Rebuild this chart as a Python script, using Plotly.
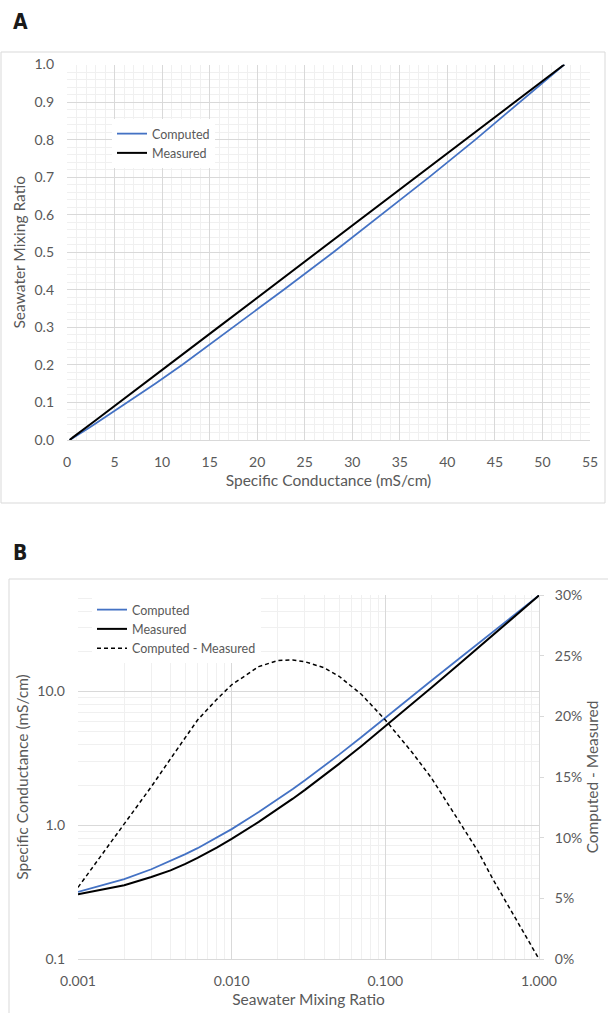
import math
import plotly.graph_objects as go

# ---------------- data ----------------
ratio = [0, 0.001, 0.002, 0.003, 0.004, 0.005, 0.006, 0.008, 0.01, 0.015, 0.02,
         0.025, 0.03, 0.04, 0.05, 0.07, 0.1, 0.15, 0.2, 0.3, 0.4, 0.5, 0.6,
         0.7, 0.8, 0.9, 1.0]
sc_measured = [0.28, 0.305, 0.356, 0.41, 0.46, 0.515, 0.57, 0.68, 0.79, 1.06,
               1.32, 1.58, 1.84, 2.36, 2.88, 3.92, 5.5, 8.1, 10.7, 15.9, 21.1,
               26.3, 31.5, 36.7, 41.9, 47.1, 52.3]
sc_computed = [0.28, 0.318, 0.395, 0.469, 0.54, 0.608, 0.674, 0.806, 0.936,
               1.256, 1.562, 1.864, 2.168, 2.773, 3.375, 4.571, 6.38, 9.27,
               12.09, 17.49, 22.79, 28.01, 33.08, 38.09, 42.95, 47.67, 52.3]
diff_pct = [None, 5.9, 11.1, 14.2, 16.5, 18.3, 19.7, 21.4, 22.6, 24.1, 24.6,
            24.65, 24.5, 24.0, 23.3, 21.8, 19.7, 17.0, 14.9, 11.4, 8.9, 6.6,
            4.9, 3.4, 2.1, 1.0, 0.0]

a_x_ticks = [0, 5, 10, 15, 20, 25, 30, 35, 40, 45, 50, 55]
b_x_tickvals = [0.001, 0.01, 0.1, 1.0]
b_x_ticktext = ["0.001", "0.010", "0.100", "1.000"]
b_y_tickvals = [0.1, 1.0, 10.0]
b_y_ticktext = ["0.1", "1.0", "10.0"]
b_y_top = 52.7

# ---------------- style ----------------
W, H = 608, 1013
BLUE = "#4472C4"
GRID = "#d9d9d9"
MINOR = "#f0f0f0"
TXT = "#595959"
FONT = "Lato, 'Open Sans', sans-serif"
LABEL_FONT = "'DejaVu Sans Condensed', 'Liberation Sans Narrow', sans-serif"


def px(x):
    return x / W


def py(y):
    return 1 - y / H


b_x_minor = [m * 10 ** e for e in (-3, -2, -1) for m in range(2, 10)]
b_y_minor = [m * 10 ** e for e in (-1, 0, 1) for m in range(2, 10)
             if m * 10 ** e <= b_y_top]

fig = go.Figure()

# Panel A
fig.add_trace(go.Scatter(x=sc_computed, y=ratio, mode="lines", name="Computed",
                         line=dict(color=BLUE, width=1.8),
                         xaxis="x", yaxis="y", legend="legend"))
fig.add_trace(go.Scatter(x=sc_measured, y=ratio, mode="lines", name="Measured",
                         line=dict(color="black", width=2),
                         xaxis="x", yaxis="y", legend="legend"))

# Panel B
fig.add_trace(go.Scatter(x=ratio[1:], y=sc_computed[1:], mode="lines",
                         name="Computed", line=dict(color=BLUE, width=1.8),
                         xaxis="x2", yaxis="y2", legend="legend2"))
fig.add_trace(go.Scatter(x=ratio[1:], y=sc_measured[1:], mode="lines",
                         name="Measured", line=dict(color="black", width=2),
                         xaxis="x2", yaxis="y2", legend="legend2"))
fig.add_trace(go.Scatter(x=ratio[1:], y=diff_pct[1:], mode="lines",
                         name="Computed - Measured",
                         line=dict(color="black", width=1.5, dash="4px,3px"),
                         xaxis="x2", yaxis="y3", legend="legend2"))

tick_font = dict(family=FONT, size=14, color=TXT)
title_font = dict(family=FONT, size=15.5, color=TXT)
legend_font = dict(family=FONT, size=12.5, color=TXT)

fig.update_layout(
    template="none",
    width=W, height=H, autosize=False,
    margin=dict(l=0, r=0, t=0, b=0, pad=0, autoexpand=False),
    paper_bgcolor="white", plot_bgcolor="white",
    font=dict(family=FONT, color=TXT),
    xaxis=dict(domain=[px(67), px(590)], anchor="y", range=[0, 55],
               tickmode="array", tickvals=a_x_ticks, automargin=False,
               showgrid=True, gridcolor=GRID, gridwidth=1,
               minor=dict(dtick=1, tick0=0, showgrid=True, gridcolor=MINOR),
               zeroline=False, showline=True, linecolor=GRID,
               ticks="", tickfont=tick_font, ticklabelstandoff=9,
               title=dict(text="Specific Conductance (mS/cm)", font=title_font,
                          standoff=6)),
    yaxis=dict(domain=[py(440), py(64.5)], anchor="x", range=[0, 1],
               dtick=0.1, tick0=0, tickformat=".1f", automargin=False,
               showgrid=True, gridcolor=GRID, gridwidth=1,
               minor=dict(dtick=0.02, tick0=0, showgrid=True, gridcolor=MINOR),
               zeroline=False, showline=False,
               ticks="", tickfont=tick_font, ticklabelstandoff=12,
               title=dict(text="Seawater Mixing Ratio", font=title_font,
                          standoff=5)),
    xaxis2=dict(domain=[px(78), px(539)], anchor="y2", type="log",
                range=[-3, 0], tickmode="array", tickvals=b_x_tickvals,
                ticktext=b_x_ticktext, automargin=False,
                showgrid=True, gridcolor=GRID,
                minor=dict(tickmode="array", tickvals=b_x_minor, showgrid=True,
                           gridcolor=MINOR),
                zeroline=False, showline=True, linecolor=GRID,
                ticks="", tickfont=tick_font, ticklabelstandoff=9,
                title=dict(text="Seawater Mixing Ratio", font=title_font,
                           standoff=6)),
    yaxis2=dict(domain=[py(959), py(595)], anchor="x2", type="log",
                range=[-1, math.log10(b_y_top)], tickmode="array",
                tickvals=b_y_tickvals, ticktext=b_y_ticktext, automargin=False,
                showgrid=True, gridcolor=GRID,
                minor=dict(tickmode="array", tickvals=b_y_minor, showgrid=True,
                           gridcolor=MINOR),
                zeroline=False, showline=False,
                ticks="", tickfont=tick_font, ticklabelstandoff=12,
                title=dict(text="Specific Conductance (mS/cm)", font=title_font,
                           standoff=4)),
    yaxis3=dict(domain=[py(959), py(595)], anchor="x2", overlaying="y2",
                side="right", range=[0, 30], dtick=5, tick0=0,
                ticksuffix="%", showgrid=False, zeroline=False, automargin=False,
                showline=True, linecolor=GRID, ticks="outside", ticklen=4,
                tickcolor=GRID, tickfont=tick_font, ticklabelstandoff=8,
                title=dict(text="Computed - Measured", font=title_font,
                           standoff=5)),
    legend=dict(x=px(112), y=py(119), xanchor="left", yanchor="top",
                bgcolor="white", borderwidth=0, font=legend_font,
                itemwidth=30, tracegroupgap=0),
    legend2=dict(x=px(92), y=py(595), xanchor="left", yanchor="top",
                 bgcolor="white", borderwidth=0, font=legend_font,
                 itemwidth=30, tracegroupgap=0),
    shapes=[
        dict(type="rect", xref="paper", yref="paper",
             x0=px(1), x1=px(605), y0=py(503), y1=py(52),
             line=dict(color=GRID, width=1), fillcolor="rgba(0,0,0,0)",
             layer="below"),
        dict(type="rect", xref="paper", yref="paper",
             x0=px(9), x1=px(612), y0=py(1020), y1=py(579),
             line=dict(color=GRID, width=1), fillcolor="rgba(0,0,0,0)",
             layer="below"),
    ],
    annotations=[
        dict(text="<b>A</b>", xref="paper", yref="paper", x=px(11), y=py(22),
             xanchor="left", yanchor="middle", showarrow=False,
             font=dict(family=LABEL_FONT, size=21, color="#1a1a1a")),
        dict(text="<b>B</b>", xref="paper", yref="paper", x=px(11), y=py(553),
             xanchor="left", yanchor="middle", showarrow=False,
             font=dict(family=LABEL_FONT, size=21, color="#1a1a1a")),
    ],
)

# remove the default 8px page margin so the figure sits at the window origin
fig.write_html(
    "out.html",
    config={"displayModeBar": False},
    post_script="document.body.style.margin='0px';document.body.style.padding='0px';",
)
